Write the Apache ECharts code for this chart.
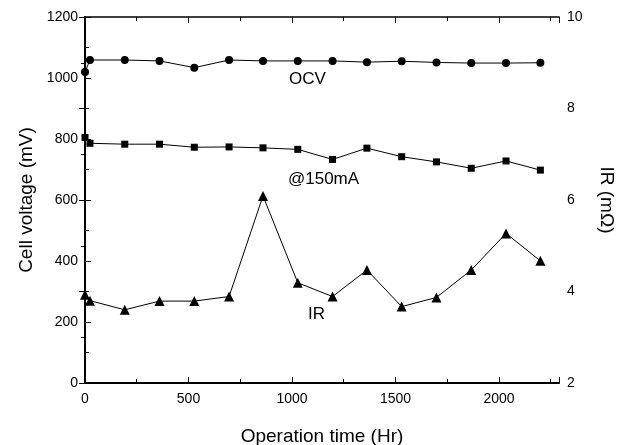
<!DOCTYPE html>
<html>
<head>
<meta charset="utf-8">
<script src="https://cdn.jsdelivr.net/npm/echarts@6/dist/echarts.min.js"></script>
<style>html,body{margin:0;padding:0;background:#fff;}#c{width:625px;height:445px;}</style>
</head>
<body>
<div id="c"></div>
<script>
// Operation time (Hr)
var hours = [0, 24, 192, 360, 528, 696, 860, 1028, 1196, 1362, 1530, 1698, 1866, 2034, 2200];
// Cell voltage (mV)
var ocv = [1020, 1059, 1059, 1056, 1034, 1059, 1056, 1056, 1056, 1052, 1055, 1051, 1049, 1049, 1050];
var v150 = [805, 786, 783, 783, 773, 774, 771, 766, 733, 770, 742, 725, 704, 728, 698];
// IR (mOhm)
var ir = [3.93, 3.80, 3.60, 3.79, 3.79, 3.89, 6.09, 4.19, 3.89, 4.47, 3.67, 3.87, 4.47, 5.27, 4.67];

var leftTicks = [0, 200, 400, 600, 800, 1000, 1200];
var rightTicks = [2, 4, 6, 8, 10];
var xTicks = [0, 500, 1000, 1500, 2000];

function pairs(xs, ys) { return xs.map(function (x, i) { return [x, ys[i]]; }); }

var FONT = 'Liberation Sans, Arial, sans-serif';
var black = '#000';

var chart = echarts.init(document.getElementById('c'), null, {renderer: 'canvas'});
var lineSeries = function (name, data, symbol, size, yIdx) {
  return {
    name: name, type: 'line', data: data, yAxisIndex: yIdx,
    symbol: symbol, symbolSize: size, clip: false,
    lineStyle: {color: black, width: 1},
    itemStyle: {color: black},
    animation: false
  };
};

chart.setOption({
  animation: false,
  grid: {left: 85, right: 66, top: 17, bottom: 62, containLabel: false, outerBoundsMode: 'none'},
  xAxis: [{
    type: 'value', min: 0, max: 2290, interval: 500, position: 'bottom',
    name: 'Operation time (Hr)', nameLocation: 'middle', nameGap: 44,
    nameTextStyle: {fontFamily: FONT, fontSize: 19, color: black},
    axisLine: {show: true, lineStyle: {color: black, width: 2}},
    axisTick: {show: true, inside: true, length: 6, lineStyle: {color: black, width: 1}},
    minorTick: {show: true, splitNumber: 2, length: 4, lineStyle: {color: black, width: 1}},
    splitLine: {show: false},
    axisLabel: {fontFamily: FONT, fontSize: 14, color: black, margin: 9, showMaxLabel: false,
      formatter: function (v) { return xTicks.indexOf(v) >= 0 ? String(v) : ''; }}
  }, {
    type: 'value', min: 0, max: 2290, interval: 500, position: 'top',
    axisLine: {show: true, lineStyle: {color: black, width: 1.5}},
    axisTick: {show: true, inside: true, length: 6, lineStyle: {color: black, width: 1}},
    minorTick: {show: true, splitNumber: 2, length: 4, lineStyle: {color: black, width: 1}},
    splitLine: {show: false},
    axisLabel: {show: false}
  }],
  yAxis: [{
    type: 'value', min: 0, max: 1200, interval: 200, position: 'left',
    name: 'Cell voltage (mV)', nameLocation: 'middle', nameGap: 43, nameRotate: 90,
    nameTextStyle: {fontFamily: FONT, fontSize: 19, color: black},
    axisLine: {show: true, lineStyle: {color: black, width: 2}},
    axisTick: {show: true, inside: true, length: 6, lineStyle: {color: black, width: 1}},
    minorTick: {show: true, splitNumber: 2, length: 4, lineStyle: {color: black, width: 1}},
    splitLine: {show: false},
    axisLabel: {fontFamily: FONT, fontSize: 14, color: black, margin: 7,
      formatter: function (v) { return leftTicks.indexOf(v) >= 0 ? String(v) : ''; }}
  }, {
    type: 'value', min: 2, max: 10, interval: 2, position: 'right',
    name: 'IR (m\u03A9)', nameLocation: 'middle', nameGap: 38, nameRotate: -90,
    nameTextStyle: {fontFamily: FONT, fontSize: 19, color: black},
    axisLine: {show: true, lineStyle: {color: black, width: 1.5}},
    axisTick: {show: true, inside: true, length: 6, lineStyle: {color: black, width: 1}},
    minorTick: {show: true, splitNumber: 2, length: 4, lineStyle: {color: black, width: 1}},
    splitLine: {show: false},
    axisLabel: {fontFamily: FONT, fontSize: 14, color: black, margin: 8,
      formatter: function (v) { return rightTicks.indexOf(v) >= 0 ? String(v) : ''; }}
  }],
  series: [
    lineSeries('OCV', pairs(hours, ocv), 'circle', 8, 0),
    lineSeries('@150mA', pairs(hours, v150), 'rect', 7, 0),
    lineSeries('IR', pairs(hours, ir), 'triangle', 10, 1)
  ],
  graphic: [
    {type: 'text', left: 289, top: 71, style: {text: 'OCV', font: '17px ' + FONT, fill: black}},
    {type: 'text', left: 288, top: 171, style: {text: '@150mA', font: '17px ' + FONT, fill: black}},
    {type: 'text', left: 308, top: 306, style: {text: 'IR', font: '17px ' + FONT, fill: black}}
  ]
});
</script>
</body>
</html>
